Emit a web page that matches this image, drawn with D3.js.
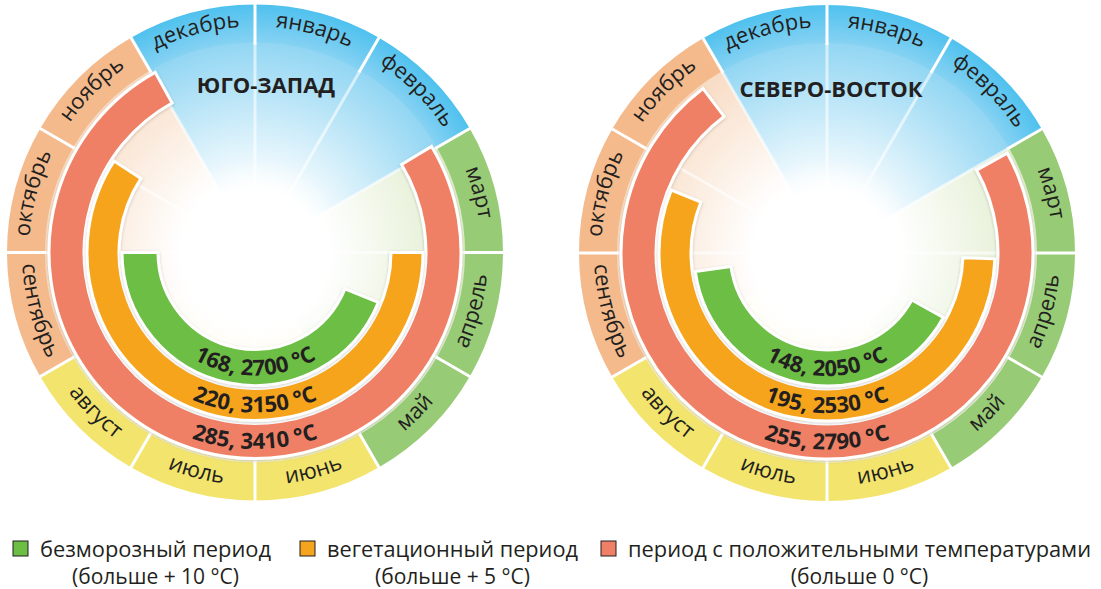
<!doctype html>
<html lang="ru">
<head>
<meta charset="utf-8">
<title>Периоды с температурами</title>
<script src="https://d3js.org/d3.v7.min.js"></script>
<style>
  body { margin: 0; background: #fff; }
  text { font-family: "Open Sans", sans-serif; fill: #231f20; }
</style>
</head>
<body>
<svg id="chart" width="1101" height="589"></svg>
<script>
// months, clockwise from 12 o'clock
var months = ["январь", "февраль", "март", "апрель", "май", "июнь",
              "июль", "август", "сентябрь", "октябрь", "ноябрь", "декабрь"];
// 0 зима, 1 весна, 2 лето, 3 осень
var monthSeason = [0, 0, 1, 1, 1, 2, 2, 2, 3, 3, 3, 0];
var ringColor  = ["#5ac5ee", "#98cb76", "#f2e46c", "#f4ba8c"];
var innerColor = ["#92d6f3", "#e0edcd", "#f7f1c6", "#f8dcc4"];

var regions = ["ЮГО-ЗАПАД", "СЕВЕРО-ВОСТОК"];

var periodNames = ["безморозный период", "вегетационный период", "период с положительными температурами"];
var periodNotes = ["(больше + 10 °C)", "(больше + 5 °C)", "(больше 0 °C)"];
var periodColors = ["#6dbe45", "#f5a41d", "#ef8066"];

// start / end of each period in degrees clockwise from top
var swStart = [112, 90, 59];
var swEnd   = [270, 303, 331];
var swLabels = ["168, 2700 °C", "220, 3150 °C", "285, 3410 °C"];

var neStart = [119, 92, 61];
var neEnd   = [262, 292, 323];
var neLabels = ["148, 2050 °C", "195, 2530 °C", "255, 2790 °C"];

var svg = d3.select("#chart");
var defs = svg.append("defs");

var rad = d3.scaleLinear().domain([0, 360]).range([0, 2 * Math.PI]);
var monthAngle = d3.scaleLinear().domain([0, 12]).range([0, 2 * Math.PI]);

// band radii: green, orange, red
var bands = [[97, 133], [136, 168], [171, 206]];
var ringIn = 210, ringOut = 248;

// gradients (centered on each chart's own origin)
innerColor.forEach(function(c, i) {
  var gr = defs.append("radialGradient")
    .attr("id", "inner" + i)
    .attr("gradientUnits", "userSpaceOnUse")
    .attr("cx", 0).attr("cy", 0).attr("r", ringIn);
  gr.append("stop").attr("offset", 0).attr("stop-color", "#fff");
  gr.append("stop").attr("offset", i == 0 ? 0.3 : 0.35).attr("stop-color", "#fff");
  gr.append("stop").attr("offset", 1).attr("stop-color", c);
});
var rg = defs.append("radialGradient")
  .attr("id", "ring0")
  .attr("gradientUnits", "userSpaceOnUse")
  .attr("cx", 0).attr("cy", 0).attr("r", ringOut);
rg.append("stop").attr("offset", ringIn / ringOut).attr("stop-color", "#86d2f3");
rg.append("stop").attr("offset", 1).attr("stop-color", "#4fc1ee");

var glow = defs.append("radialGradient").attr("id", "glow");
glow.append("stop").attr("offset", 0).attr("stop-color", "#fff").attr("stop-opacity", 1);
glow.append("stop").attr("offset", 0.4).attr("stop-color", "#fff").attr("stop-opacity", 0.8);
glow.append("stop").attr("offset", 1).attr("stop-color", "#fff").attr("stop-opacity", 0);

var shadow = defs.append("filter").attr("id", "shadow")
  .attr("x", "-20%").attr("y", "-20%").attr("width", "140%").attr("height", "140%");
shadow.append("feDropShadow").attr("dx", 0).attr("dy", 1).attr("stdDeviation", 1.5)
  .attr("flood-color", "#000").attr("flood-opacity", 0.2);

function circlePath(r, a0, a1, ccw) {
  var p = d3.path();
  p.arc(0, 0, r, a0 - Math.PI / 2, a1 - Math.PI / 2, ccw);
  return p.toString();
}

function drawChart(k, cx, cy, starts, ends, labels, title, titleY) {
  var g = svg.append("g").attr("transform", "translate(" + cx + "," + cy + ")");

  // pale season wedges inside
  g.selectAll(".wedge").data(months).enter().append("path")
    .attr("class", "wedge")
    .attr("d", function(d, i) {
      return d3.arc()({innerRadius: 0, outerRadius: ringIn + 1,
        startAngle: monthAngle(i), endAngle: monthAngle(i + 1) + 0.01});
    })
    .attr("fill", function(d, i) { return "url(#inner" + monthSeason[i] + ")"; });

  // month ring
  g.selectAll(".month").data(months).enter().append("path")
    .attr("class", "month")
    .attr("d", function(d, i) {
      return d3.arc()({innerRadius: ringIn, outerRadius: ringOut,
        startAngle: monthAngle(i), endAngle: monthAngle(i + 1)});
    })
    .attr("fill", function(d, i) {
      return monthSeason[i] == 0 ? "url(#ring0)" : ringColor[monthSeason[i]];
    });

  // faint rays and ring dividers
  g.selectAll(".ray").data(months).enter().append("line")
    .attr("x1", function(d, i) { return 20 * Math.sin(monthAngle(i)); })
    .attr("y1", function(d, i) { return -20 * Math.cos(monthAngle(i)); })
    .attr("x2", function(d, i) { return ringIn * Math.sin(monthAngle(i)); })
    .attr("y2", function(d, i) { return -ringIn * Math.cos(monthAngle(i)); })
    .attr("stroke", "#fff").attr("stroke-width", 3).attr("stroke-opacity", 0.6);
  g.selectAll(".div").data(months).enter().append("line")
    .attr("x1", function(d, i) { return (ringIn - 2) * Math.sin(monthAngle(i)); })
    .attr("y1", function(d, i) { return -(ringIn - 2) * Math.cos(monthAngle(i)); })
    .attr("x2", function(d, i) { return (ringOut + 1) * Math.sin(monthAngle(i)); })
    .attr("y2", function(d, i) { return -(ringOut + 1) * Math.cos(monthAngle(i)); })
    .attr("stroke", "#fff").attr("stroke-width", 3);

  g.append("circle").attr("r", 95).attr("fill", "url(#glow)");

  // month labels
  months.forEach(function(m, i) {
    var mid = monthAngle(i + 0.5);
    var top = (i <= 2 || i >= 9);
    var id = "mp" + k + "_" + i;
    defs.append("path").attr("id", id)
      .attr("d", top ? circlePath(226, mid - 1, mid + 1, false)
                     : circlePath(233, mid + 1, mid - 1, true));
    g.append("text")
      .attr("font-size", 22)
      .append("textPath")
      .attr("href", "#" + id)
      .attr("startOffset", "50%")
      .attr("text-anchor", "middle")
      .text(m);
  });

  // period arcs: red, orange, green (outer first)
  [2, 1, 0].forEach(function(j) {
    g.append("path")
      .attr("d", d3.arc()({innerRadius: bands[j][0], outerRadius: bands[j][1],
        startAngle: rad(starts[j]), endAngle: rad(ends[j])}))
      .attr("fill", periodColors[j])
      .attr("stroke", "#fff").attr("stroke-width", 3)
      .attr("filter", "url(#shadow)");
  });

  // value labels along the bottom
  labels.forEach(function(l, j) {
    var id = "lp" + k + "_" + j;
    var r = (bands[j][0] + bands[j][1]) / 2 + 8;
    defs.append("path").attr("id", id)
      .attr("d", circlePath(r, rad(270), rad(90), true));
    g.append("text")
      .attr("font-size", 22).attr("font-weight", 700)
      .append("textPath")
      .attr("href", "#" + id)
      .attr("startOffset", "50%")
      .attr("text-anchor", "middle")
      .text(l);
  });

  svg.append("text")
    .attr("x", cx + (k == 0 ? 11 : 4)).attr("y", titleY)
    .attr("text-anchor", "middle")
    .attr("font-size", 22).attr("font-weight", 700)
    .text(title);
}

drawChart(0, 255, 252.5, swStart, swEnd, swLabels, regions[0], 93);
drawChart(1, 827, 253, neStart, neEnd, neLabels, regions[1], 97);

// legend
var legX = [13, 300, 601];
var legTextW = [231, 251, 463];
periodNames.forEach(function(n, j) {
  svg.append("rect")
    .attr("x", legX[j]).attr("y", 541).attr("width", 15).attr("height", 15)
    .attr("fill", periodColors[j]).attr("stroke", "#231f20").attr("stroke-width", 1);
  svg.append("text")
    .attr("x", legX[j] + 27).attr("y", 557)
    .attr("font-size", 22)
    .attr("textLength", legTextW[j]).attr("lengthAdjust", "spacingAndGlyphs")
    .text(n);
  svg.append("text")
    .attr("x", legX[j] + 27 + legTextW[j] / 2).attr("y", 584)
    .attr("text-anchor", "middle")
    .attr("font-size", 21)
    .text(periodNotes[j]);
});
</script>
</body>
</html>
